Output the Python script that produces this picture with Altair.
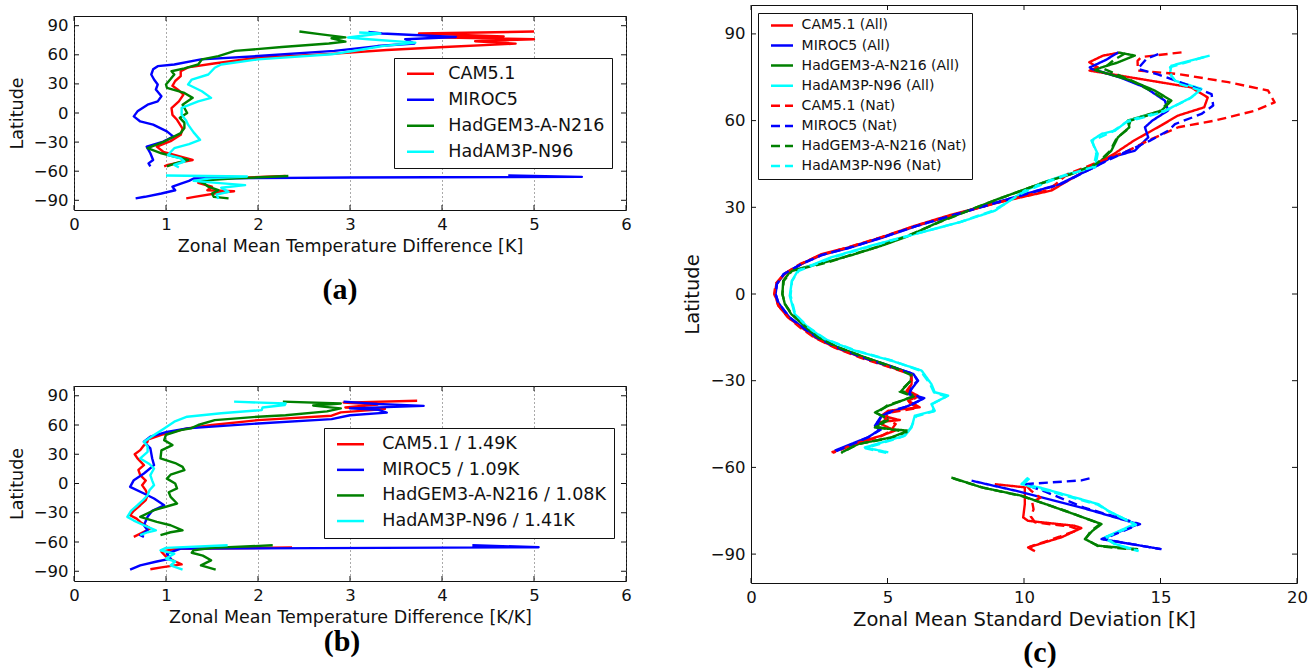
import altair as alt
import pandas as pd

MODELS = ["CAM5.1", "MIROC5", "HadGEM3-A-N216", "HadAM3P-N96"]
COLORS = ["#ff0000", "#0000ff", "#008000", "#00ffff"]
B_SCALE = [1.49, 1.09, 1.08, 1.41]          # per-model scaling shown in the (b) legend

LAT_TICKS = [-90, -60, -30, 0, 30, 60, 90]
AB_XTICKS = [0, 1, 2, 3, 4, 5, 6]
C_XTICKS = [0, 5, 10, 15, 20]

# ---------------- (a) zonal mean temperature difference [K] ----------------
A_CAM_LAT = [84, 82, 79, 78, 76, 74, 71.5, 68, 65, 61, 57, 51, 47, 43, 38, 33, 28, 24, 19, 12, 5, -2, -7, -16, -22.5, -29, -34.6, -40, -45, -48.4, -50, -53.6, -55,
             None, -65, -68, -72, -76, -79.6, -80.6, -82, -86.5, -88]
A_CAM_VAL = [5.0, 3.75, 4.67, 3.9, 5.0, 4.36, 4.8, 4.03, 3.4, 2.8, 2.0, 1.52, 1.24, 1.16, 1.16, 1.1, 1.07, 1.13, 1.19, 1.14, 1.06, 1.07, 1.12, 1.18, 1.16, 1.05, 0.9, 0.97, 1.16, 1.29, 1.2, 1.02, 0.98,
             None, 2.3, 1.4, 1.35, 1.5, 1.45, 1.74, 1.6, 1.31, 1.22]
A_MIR_LAT = [83.6, 82, 78.4, 76, 71.6, 69, 64, 58.7, 55.3, 50, 48.3, 45, 39.7, 34.5, 29.4, 24.2, 17.2, 12, 8.6, 1.7, -3.5, -8.7, -12, -19, -24.3, -29.5, -34.6, -41.5, -48.4, -51.9, -55,
             None, -64.3, -65.8, -66.5, -67.5, -70, -72.6, -76, -79.6, -83, -86.4, -88]
A_MIR_VAL = [3.2, 3.35, 4.15, 3.6, 3.7, 3.3, 2.83, 2.0, 1.38, 1.09, 0.91, 0.86, 0.84, 0.87, 0.91, 0.89, 0.95, 0.91, 0.8, 0.69, 0.65, 0.72, 0.86, 1.01, 1.08, 0.97, 0.79, 0.83, 0.86, 0.81, 0.83,
             None, 4.72, 5.52, 3.0, 1.3, 1.25, 1.17, 1.07, 1.1, 0.95, 0.77, 0.67]
A_HGM_LAT = [84, 81, 78, 77, 73.6, 71.6, 68, 64, 58.7, 55.3, 50, 46, 43, 39.7, 35, 29.4, 26, 20.7, 15.6, 8.6, 0, -5, -10, -15.5, -20.7, -29.4, -36.3, -41.5, -45, -48.4, -52, -55,
             None, -65, -67.4, -70, -73, -76, -79.6, -83, -86.5, -88]
A_HGM_VAL = [2.45, 2.69, 2.95, 2.8, 2.95, 2.77, 2.26, 1.75, 1.57, 1.39, 1.35, 1.2, 1.06, 1.09, 1.05, 1.0, 1.01, 1.2, 1.29, 1.18, 1.23, 1.15, 1.2, 1.2, 1.16, 0.98, 0.8, 0.95, 1.09, 1.24, 1.1, 1.01,
             None, 2.33, 1.75, 1.35, 1.42, 1.46, 1.57, 1.5, 1.52, 1.68]
A_HAM_LAT = [83, 82, 77.8, 76, 72.6, 69, 65, 60.5, 55.3, 50, 46.7, 39.7, 34.5, 29.4, 22.4, 15.6, 12, 5.2, -1.7, -8, -12, -20, -27.7, -32, -36.3, -43.3, -46.7, -50, -53.6, -56,
             None, -64.5, -65.5, -67, -70, -72, -74.4, -77, -81.3, -84, -88.5]
A_HAM_VAL = [3.1, 3.33, 2.98, 3.2, 3.71, 3.35, 3.1, 2.8, 2.0, 1.6, 1.53, 1.46, 1.28, 1.24, 1.39, 1.49, 1.35, 1.17, 1.17, 1.22, 1.24, 1.3, 1.37, 1.25, 1.09, 1.02, 1.16, 1.2, 1.09, 1.14,
             None, 1.0, 1.88, 1.5, 1.3, 1.55, 1.86, 1.6, 1.68, 1.55, 1.57]

# ---------------- (b) zonal mean temperature difference [K/K] ----------------
B_CAM_LAT = [84.8, 83, 81, 78, 76.5, 75.5, 73, 69.5, 65, 60, 56.5, 50, 45, 42.8, 38, 34.2, 30, 25.7, 18.8, 14, 8.6, 3, -1.7, -7, -12, -17, -22.3, -28, -32.5, -36, -39.4, -43, -46.2, -50, -54.8,
             None, -65.7, -67, -70, -75, -80, -83, -86, -88]
B_CAM_VAL = [3.73, 2.93, 3.3, 2.95, 3.38, 3.26, 2.9, 2.8, 2.0, 1.5, 1.23, 0.95, 0.8, 0.8, 0.75, 0.72, 0.66, 0.69, 0.76, 0.7, 0.72, 0.78, 0.74, 0.78, 0.8, 0.78, 0.72, 0.65, 0.61, 0.68, 0.72, 0.78, 0.83, 0.75, 0.65,
             None, 2.37, 1.1, 0.95, 1.0, 1.1, 1.17, 0.95, 0.83]
B_MIR_LAT = [84, 81.5, 79.6, 77, 75.5, 72.7, 70, 66, 61.6, 56.5, 53, 48, 42.8, 36, 25.7, 18.8, 10.3, 3.4, -3.4, -10.3, -15.4, -22.3, -28, -34.2, -42.8, -48, -53, -54.8,
             None, -63.3, -65.4, -66.8, -72, -77, -80, -84, -88.4]
B_MIR_VAL = [2.93, 3.3, 3.8, 3.0, 3.31, 3.4, 3.0, 2.8, 2.0, 1.23, 1.01, 0.83, 0.76, 0.83, 0.85, 0.87, 0.76, 0.65, 0.61, 0.76, 0.87, 0.98, 0.85, 0.8, 0.76, 0.8, 0.72, 0.76,
             None, 4.33, 5.05, 1.16, 1.01, 1.05, 0.9, 0.72, 0.61]
B_HGM_LAT = [84, 82, 80, 78.6, 77, 74, 70, 68.5, 65, 60, 56.5, 54.8, 50, 44.5, 39.4, 34, 25.7, 21, 17, 13.7, 9, 5, 0, -5, -9, -13.7, -20.5, -27.4, -34.2, -39.4, -42.8, -48, -50, -53,
             None, -63.4, -66, -68.5, -71, -74, -78.8, -84, -88.4]
B_HGM_VAL = [2.27, 2.9, 2.6, 2.73, 2.9, 2.75, 2.3, 2.0, 1.53, 1.35, 1.27, 1.16, 1.0, 0.98, 1.07, 0.95, 0.94, 1.1, 1.18, 1.2, 1.05, 1.01, 1.1, 1.12, 1.03, 1.05, 1.12, 0.87, 0.72, 0.9, 1.05, 1.18, 1.05, 0.94,
             None, 2.16, 1.5, 1.3, 1.28, 1.4, 1.49, 1.38, 1.54]
B_HAM_LAT = [84, 82, 80.5, 78, 75.3, 72, 68.5, 63.4, 56.5, 49.7, 42.8, 38, 32.5, 25.7, 20, 15.4, 8.6, 3, -1.7, -7, -12, -17, -22.3, -28, -34.2, -38, -42.8, -48, -50, -53,
             None, -63.4, -66, -68.5, -72, -77, -80, -84, -88.4]
B_HAM_VAL = [1.74, 2.3, 2.29, 2.05, 2.04, 1.6, 1.23, 1.09, 0.98, 0.87, 0.76, 0.8, 0.8, 0.72, 0.82, 0.87, 0.83, 0.85, 0.87, 0.82, 0.8, 0.75, 0.69, 0.62, 0.58, 0.65, 0.76, 0.89, 0.8, 0.72,
             None, 1.67, 1.0, 0.94, 1.09, 1.0, 1.1, 1.05, 1.18]

# ---------------- (c) zonal mean standard deviation [K] ----------------
C_CAM_ALL_LAT = [83.5, 82.5, 80.2, 78.5, 77.3, 71.5, 68, 64.6, 61.7, 58.3, 53.1, 48.5, 43.8, 35.8, 31.7, 27.1, 23.6, 19.6, 16.1, 13.8, 10.4, 6.9, 3.5, 0, -4, -8.1, -11.6, -15, -18.5, -21.9,
                 -25.4, -27.7, -31.2, -33.5, -35.2, -37, -39.2, -40.4, -42.1, -43.6, -44.4, -47.3, -49, -51.4, -54.8,
                 None, -65.8, -66.9, -72.7, -77.3, -78.5, -80.2, -81, -84.2, -87.7, -89]
C_CAM_ALL_VAL = [13.5, 12.9, 12.39, 12.7, 12.4, 16.12, 16.73, 16.6, 15.63, 15.02, 14.03, 13.3, 12.45, 11.0, 9.06, 7.22, 6.0, 4.78, 3.56, 2.58, 1.85, 1.24, 0.93, 0.87, 1.0, 1.36, 1.85, 2.34, 3.07, 4.05,
                 5.15, 5.88, 5.88, 5.76, 6.12, 5.76, 6.18, 5.03, 4.78, 5.45, 4.64, 5.27, 4.78, 3.93, 2.95,
                 None, 8.93, 10.03, 10.03, 9.97, 10.15, 11.86, 12.1, 11.37, 10.15, 10.4]
C_MIR_ALL_LAT = [83.6, 81, 78.4, 77.9, 75, 71.5, 66.9, 63.5, 60, 57.7, 54.2, 49.6, 47.3, 44, 38, 32, 27, 23.5, 19.6, 16, 13.5, 10.4, 6.9, 3.5, 0, -3, -8, -11.6, -15, -18.5,
                 -22, -25.4, -27.7, -30, -32, -34.6, -36.3, -38.7, -40, -42.1, -45.6, -47, -49.6, -51.4, -54.2,
                 None, -64.6, -68, -73.9, -79.6, -84.8, -88.3]
C_MIR_ALL_VAL = [13.45, 13.0, 12.41, 12.47, 13.5, 14.43, 15.16, 15.28, 14.7, 14.43, 14.55, 14.06, 13.2, 12.6, 11.3, 9.1, 7.3, 6.05, 4.85, 3.6, 2.6, 1.85, 1.2, 0.95, 0.9, 1.0, 1.4, 1.9, 2.4, 3.15,
                 4.15, 5.25, 5.95, 6.12, 5.95, 5.76, 6.3, 5.76, 5.4, 4.78, 4.54, 4.7, 4.29, 3.8, 3.07,
                 None, 8.08, 9.66, 12.1, 14.18, 12.84, 15.04]
C_HGM_ALL_LAT = [83.6, 82.5, 80, 78.4, 77.5, 73.8, 70.4, 66.9, 63.5, 60, 57.7, 54.2, 49.6, 45, 41.5, 39.2, 32.9, 29, 25, 20, 16.7, 13.5, 11.5, 8.1, 4.6, 0, -3.5, -6.9, -11, -15,
                 -18.5, -22, -25.4, -27.7, -30, -33.5, -35.2, -38.7, -41, -43, -46.2, -47.3, -49.6, -51.9, -54.8,
                 None, -63.5, -66.9, -69.8, -75, -79.6, -82, -84.8, -87.1, -88.3]
C_HGM_ALL_VAL = [13.45, 14.06, 13.4, 12.84, 12.6, 13.94, 14.79, 15.4, 15.04, 13.8, 13.86, 13.44, 13.2, 12.7, 11.74, 10.9, 9.06, 8.0, 6.9, 5.75, 4.78, 3.7, 2.94, 1.47, 1.18, 1.15, 1.24, 1.47, 1.95, 2.45,
                 3.2, 4.2, 5.25, 5.88, 5.85, 5.51, 6.0, 5.03, 4.54, 5.0, 4.54, 5.76, 5.15, 3.93, 3.32,
                 None, 7.34, 8.44, 9.91, 11.49, 12.84, 12.5, 12.23, 12.72, 14.18]
C_HAM_ALL_LAT = [82.5, 79, 76.1, 73.8, 71, 68, 63.4, 60, 56.5, 55.4, 53.1, 48.5, 43.8, 41.5, 39.2, 35.8, 28.8, 25, 21.9, 17, 12.7, 8.1, 4.6, -0.6, -6.9, -11.6, -15.6, -19.6, -23.1, -26.5,
                 -31.2, -34, -35.2, -38.1, -40.4, -42.1, -46.2, -49, -51.4, -53.1, -54.8,
                 None, -63.5, -65.8, -67, -72.7, -75, -79.6, -84.2, -86.5, -88.8]
C_HAM_ALL_VAL = [16.8, 15.4, 15.34, 15.53, 16.5, 16.13, 15.16, 13.82, 13.33, 12.84, 12.47, 12.7, 12.6, 11.6, 10.9, 10.03, 8.93, 7.7, 6.48, 4.5, 2.94, 1.72, 1.5, 1.42, 1.6, 2.09, 2.7, 3.8, 5.15, 6.25,
                 6.61, 6.73, 7.22, 6.61, 6.73, 6.0, 5.88, 5.64, 4.78, 4.17, 5.03,
                 None, 10.15, 9.91, 10.6, 12.72, 13.08, 14.06, 12.96, 13.33, 14.18]
C_CAM_NAT_LAT = [83.6, 82, 80.7, 77.3, 76.1, 73.3, 70.4, 66.3, 63.4, 60, 57.7, 53.1, 49.6, 46.1, 41.5, 36, 32, 27, 23.5, 19.6, 16, 13.5, 10.4, 6.9, 3.5, 0, -4, -8, -11.6, -15,
                 -18.5, -22, -25.4, -27.7, -31, -33.5, -35.5, -37.5, -39.5, -41, -43, -45, -47.5, -49.5, -51.5, -55,
                 None, -66.5, -68, -70.5, -72, -74.5, -77, -79, -80.5, -81.5, -84, -87.5, -89]
C_CAM_NAT_VAL = [15.77, 14.3, 14.16, 14.17, 15.65, 17.48, 18.94, 19.18, 18.45, 16.99, 15.65, 14.55, 13.82, 12.84, 11.6, 10.9, 9.2, 7.25, 6.0, 4.75, 3.5, 2.55, 1.8, 1.2, 0.9, 0.85, 1.0, 1.35, 1.8, 2.3,
                 3.05, 4.0, 5.1, 5.85, 5.9, 5.7, 6.1, 5.8, 6.1, 5.1, 4.9, 5.3, 5.1, 4.7, 3.9, 3.0,
                 None, 10.1, 10.25, 10.6, 10.3, 10.35, 10.25, 10.4, 11.7, 12.0, 11.3, 10.2, 10.45]
C_MIR_NAT_LAT = [83, 81.5, 77.9, 76, 73, 69.2, 65.2, 62.3, 58.8, 56.5, 53, 48.5, 45, 38, 32, 27, 23.5, 19.6, 16, 13.5, 10.4, 6.9, 3.5, 0, -3, -8, -11.6, -15, -18.5, -22,
                 -25.4, -27.7, -30, -32, -34.6, -36, -38.7, -40, -42, -45.5, -47, -49.5, -51.4, -54.5,
                 None, -63.8, -64.5, -65.8, -68.5, -73.9, -79.6, -84.8, -88.3]
C_MIR_NAT_VAL = [14.92, 14.5, 14.17, 14.9, 15.8, 16.87, 16.93, 16.5, 15.53, 15.28, 14.6, 13.57, 12.8, 11.35, 9.15, 7.3, 6.05, 4.8, 3.6, 2.6, 1.85, 1.2, 0.95, 0.9, 1.0, 1.4, 1.9, 2.4, 3.15, 4.1,
                 5.2, 5.95, 6.1, 5.9, 5.8, 6.35, 5.8, 5.3, 4.8, 4.6, 4.75, 4.3, 3.85, 3.1,
                 None, 12.4, 12.1, 10.03, 10.8, 12.2, 14.25, 12.9, 15.0]
C_HGM_NAT_LAT = [83.2, 81, 78, 74, 70, 66.5, 63, 60, 57, 54, 49.5, 45, 41.5, 38.5, 33, 29, 25, 20, 16.5, 13.5, 11, 8, 4.5, 0, -3.5, -7, -11, -15, -18.5, -22,
                 -25.5, -28, -30.5, -33.8, -35.5, -38.5, -41.2, -43.5, -46, -47.8, -49.8, -52, -55,
                 None, -63.8, -67, -70, -75, -79.5, -82, -84.8, -87.2, -88.5]
C_HGM_NAT_VAL = [13.7, 13.3, 12.9, 13.9, 14.7, 15.3, 14.95, 13.9, 13.8, 13.4, 13.15, 12.65, 11.7, 10.7, 9.1, 8.0, 6.95, 5.7, 4.7, 3.65, 2.85, 1.5, 1.2, 1.15, 1.25, 1.5, 1.95, 2.45, 3.2, 4.2,
                 5.25, 5.85, 5.8, 5.45, 5.95, 5.0, 4.6, 5.05, 4.6, 5.7, 5.1, 3.9, 3.3,
                 None, 7.4, 8.5, 9.95, 11.5, 12.8, 12.45, 12.25, 12.7, 14.1]
C_HAM_NAT_LAT = [82, 78.5, 75.5, 73, 70.5, 67.5, 63, 59.5, 56, 53, 48.5, 44, 41, 38.5, 35, 29, 25, 22, 17, 12.5, 8, 4.5, -0.5, -7, -11.5, -15.5, -19.5, -23, -26.5, -31,
                 -34, -35.5, -38.3, -40.6, -42.3, -46.4, -49.2, -51.6, -53.4, -55,
                 None, -63.8, -66, -67.3, -72.9, -75.2, -79.8, -84.4, -86.7, -89]
C_HAM_NAT_VAL = [16.6, 15.35, 15.4, 15.6, 16.45, 16.05, 15.1, 13.75, 13.2, 12.5, 12.65, 12.55, 11.5, 10.8, 9.95, 8.9, 7.7, 6.5, 4.55, 2.95, 1.75, 1.5, 1.45, 1.62, 2.1, 2.72, 3.82, 5.15, 6.2, 6.55,
                 6.7, 7.15, 6.6, 6.7, 6.05, 5.85, 5.6, 4.8, 4.2, 4.95,
                 None, 10.2, 9.95, 10.55, 12.7, 13.1, 14.1, 12.95, 13.35, 14.2]

FONT = "DejaVu Sans"
INK = "#111111"
TICK_LEN = 5


def profiles(series):
    """Long table of (label, segment, order, lat, val); None splits a profile into segments."""
    rows = []
    for label, lats, vals in series:
        assert len(lats) == len(vals), label
        seg, k = 0, 0
        for la, v in zip(lats, vals):
            if la is None:
                seg += 1
                continue
            rows.append({"model": label, "seg": f"{label}#{seg}", "i": k, "lat": la, "val": v})
            k += 1
    return pd.DataFrame(rows)


def panel(df, labels, colors, dashes, xdom, xticks, xtitle, w, h, leg, grid,
          tag, tag_offset, tag_dx, axis_title_fs, ytitle_pad):
    xenc = alt.X("val:Q", scale=alt.Scale(domain=xdom, nice=False, zero=False),
                 axis=alt.Axis(values=xticks, format="d", grid=grid, gridDash=[1, 3],
                               gridColor="#555555", gridWidth=1, ticks=False, tickSize=0, domain=False,
                               labelFontSize=16.5, labelPadding=6, labelColor=INK, labelFlush=False,
                               title=xtitle, titleFontSize=axis_title_fs, titleFontWeight="normal",
                               titleColor=INK, titlePadding=5))
    yenc = alt.Y("lat:Q", scale=alt.Scale(domain=[-100, 100], nice=False, zero=False),
                 axis=alt.Axis(values=LAT_TICKS, format="d", grid=False, ticks=False, tickSize=0,
                               domain=False, labelFontSize=16.5, labelPadding=6, labelColor=INK,
                               title="Latitude", titleFontSize=axis_title_fs, titleFontWeight="normal",
                               titleColor=INK, titlePadding=ytitle_pad))
    legend = alt.Legend(title=None, orient="none", legendX=leg["x"], legendY=leg["y"],
                        symbolType=leg["path"], symbolSize=leg["size"], symbolStrokeWidth=2.5,
                        symbolOffset=leg["soff"], labelOffset=leg["loff"], rowPadding=leg["rowpad"],
                        padding=leg["pad"], labelFont=FONT, labelFontSize=leg["fs"], labelColor=INK,
                        labelLimit=500, strokeColor=INK, fillColor="#ffffff", cornerRadius=0)
    enc = dict(x=xenc, y=yenc,
               color=alt.Color("model:N", scale=alt.Scale(domain=labels, range=colors), legend=legend),
               detail="seg:N", order="i:Q")
    if dashes is not None:
        enc["strokeDash"] = alt.StrokeDash("model:N", scale=alt.Scale(domain=labels, range=dashes),
                                           legend=legend)
    lines = alt.Chart(df).mark_line(strokeWidth=2.4, strokeJoin="round").encode(**enc)

    # inward ticks on all four sides of the frame
    ty = pd.DataFrame({"lat": LAT_TICKS})
    tx = pd.DataFrame({"val": xticks})
    rule = dict(color=INK, strokeWidth=1)
    t_left = alt.Chart(ty).mark_rule(**rule).encode(y=yenc, x=alt.value(0), x2=alt.value(TICK_LEN))
    t_right = alt.Chart(ty).mark_rule(**rule).encode(y=yenc, x=alt.value(w - TICK_LEN), x2=alt.value(w))
    t_bot = alt.Chart(tx).mark_rule(**rule).encode(x=xenc, y=alt.value(h - TICK_LEN), y2=alt.value(h))
    t_top = alt.Chart(tx).mark_rule(**rule).encode(x=xenc, y=alt.value(0), y2=alt.value(TICK_LEN))
    return alt.layer(lines, t_left, t_right, t_bot, t_top).properties(
        width=w, height=h,
        title=alt.TitleParams(tag, orient="bottom", font="Liberation Serif", fontSize=30,
                              fontWeight="bold", color="#000000", offset=tag_offset, dx=tag_dx,
                              anchor="middle"))


df_a = profiles([(MODELS[0], A_CAM_LAT, A_CAM_VAL), (MODELS[1], A_MIR_LAT, A_MIR_VAL),
                 (MODELS[2], A_HGM_LAT, A_HGM_VAL), (MODELS[3], A_HAM_LAT, A_HAM_VAL)])
b_labels = [f"{m} / {s:.2f}K" for m, s in zip(MODELS, B_SCALE)]
df_b = profiles([(b_labels[0], B_CAM_LAT, B_CAM_VAL), (b_labels[1], B_MIR_LAT, B_MIR_VAL),
                 (b_labels[2], B_HGM_LAT, B_HGM_VAL), (b_labels[3], B_HAM_LAT, B_HAM_VAL)])
c_labels = [f"{m} (All)" for m in MODELS] + [f"{m} (Nat)" for m in MODELS]
df_c = profiles([(c_labels[0], C_CAM_ALL_LAT, C_CAM_ALL_VAL), (c_labels[1], C_MIR_ALL_LAT, C_MIR_ALL_VAL),
                 (c_labels[2], C_HGM_ALL_LAT, C_HGM_ALL_VAL), (c_labels[3], C_HAM_ALL_LAT, C_HAM_ALL_VAL),
                 (c_labels[4], C_CAM_NAT_LAT, C_CAM_NAT_VAL), (c_labels[5], C_MIR_NAT_LAT, C_MIR_NAT_VAL),
                 (c_labels[6], C_HGM_NAT_LAT, C_HGM_NAT_VAL), (c_labels[7], C_HAM_NAT_LAT, C_HAM_NAT_VAL)])

LEG_A = dict(x=320, y=42, path="M-2.25,0L2.25,0", size=144, soff=10.75, loff=19, rowpad=7.0, pad=7, fs=17.5)
LEG_B = dict(x=250, y=42, path="M-2.25,0L2.25,0", size=144, soff=10.25, loff=23, rowpad=6.6, pad=7.5, fs=17.5)
LEG_C = dict(x=7, y=8, path="M-2.2,0L2.2,0", size=100, soff=11.6, loff=12.6, rowpad=6.1, pad=5.4, fs=14)

pa = panel(df_a, MODELS, COLORS, None, [0, 6], AB_XTICKS, "Zonal Mean Temperature Difference [K]",
           552, 194, LEG_A, True, "(a)", 20, -10, 17.5, 6.5)
pb = panel(df_b, b_labels, COLORS, None, [0, 6], AB_XTICKS, "Zonal Mean Temperature Difference [K/K]",
           552, 195, LEG_B, True, "(b)", 1, -8, 17.5, 6.5)
pc = panel(df_c, c_labels, COLORS + COLORS, [[1, 0]] * 4 + [[9, 5]] * 4, [0, 20], C_XTICKS,
           "Zonal Mean Standard Deviation [K]", 546, 578, LEG_C, False, "(c)", 9, 16, 19.5, 7.2)

# blank strip that lowers the left column a little below the top of panel (c)
strip = (alt.Chart(pd.DataFrame({"k": [0]})).mark_rule(opacity=0, strokeWidth=0)
         .encode(x=alt.value(0), x2=alt.value(1), y=alt.value(0))
         .properties(width=1, height=1, view=alt.ViewBackground(stroke="transparent")))

pair = alt.vconcat(pa, pb, spacing=79).resolve_scale(color="independent")
left = alt.vconcat(strip, pair, spacing=8).resolve_scale(color="independent")
chart = (alt.hconcat(left, pc, spacing=50)
         .resolve_scale(color="independent", strokeDash="independent")
         .properties(padding={"left": 8, "top": 4, "right": 0, "bottom": 0})
         .configure_view(stroke=INK, strokeWidth=1)
         .configure_axis(labelFont=FONT, titleFont=FONT))

chart.save("out.html", embed_options={"renderer": "svg", "actions": False})
